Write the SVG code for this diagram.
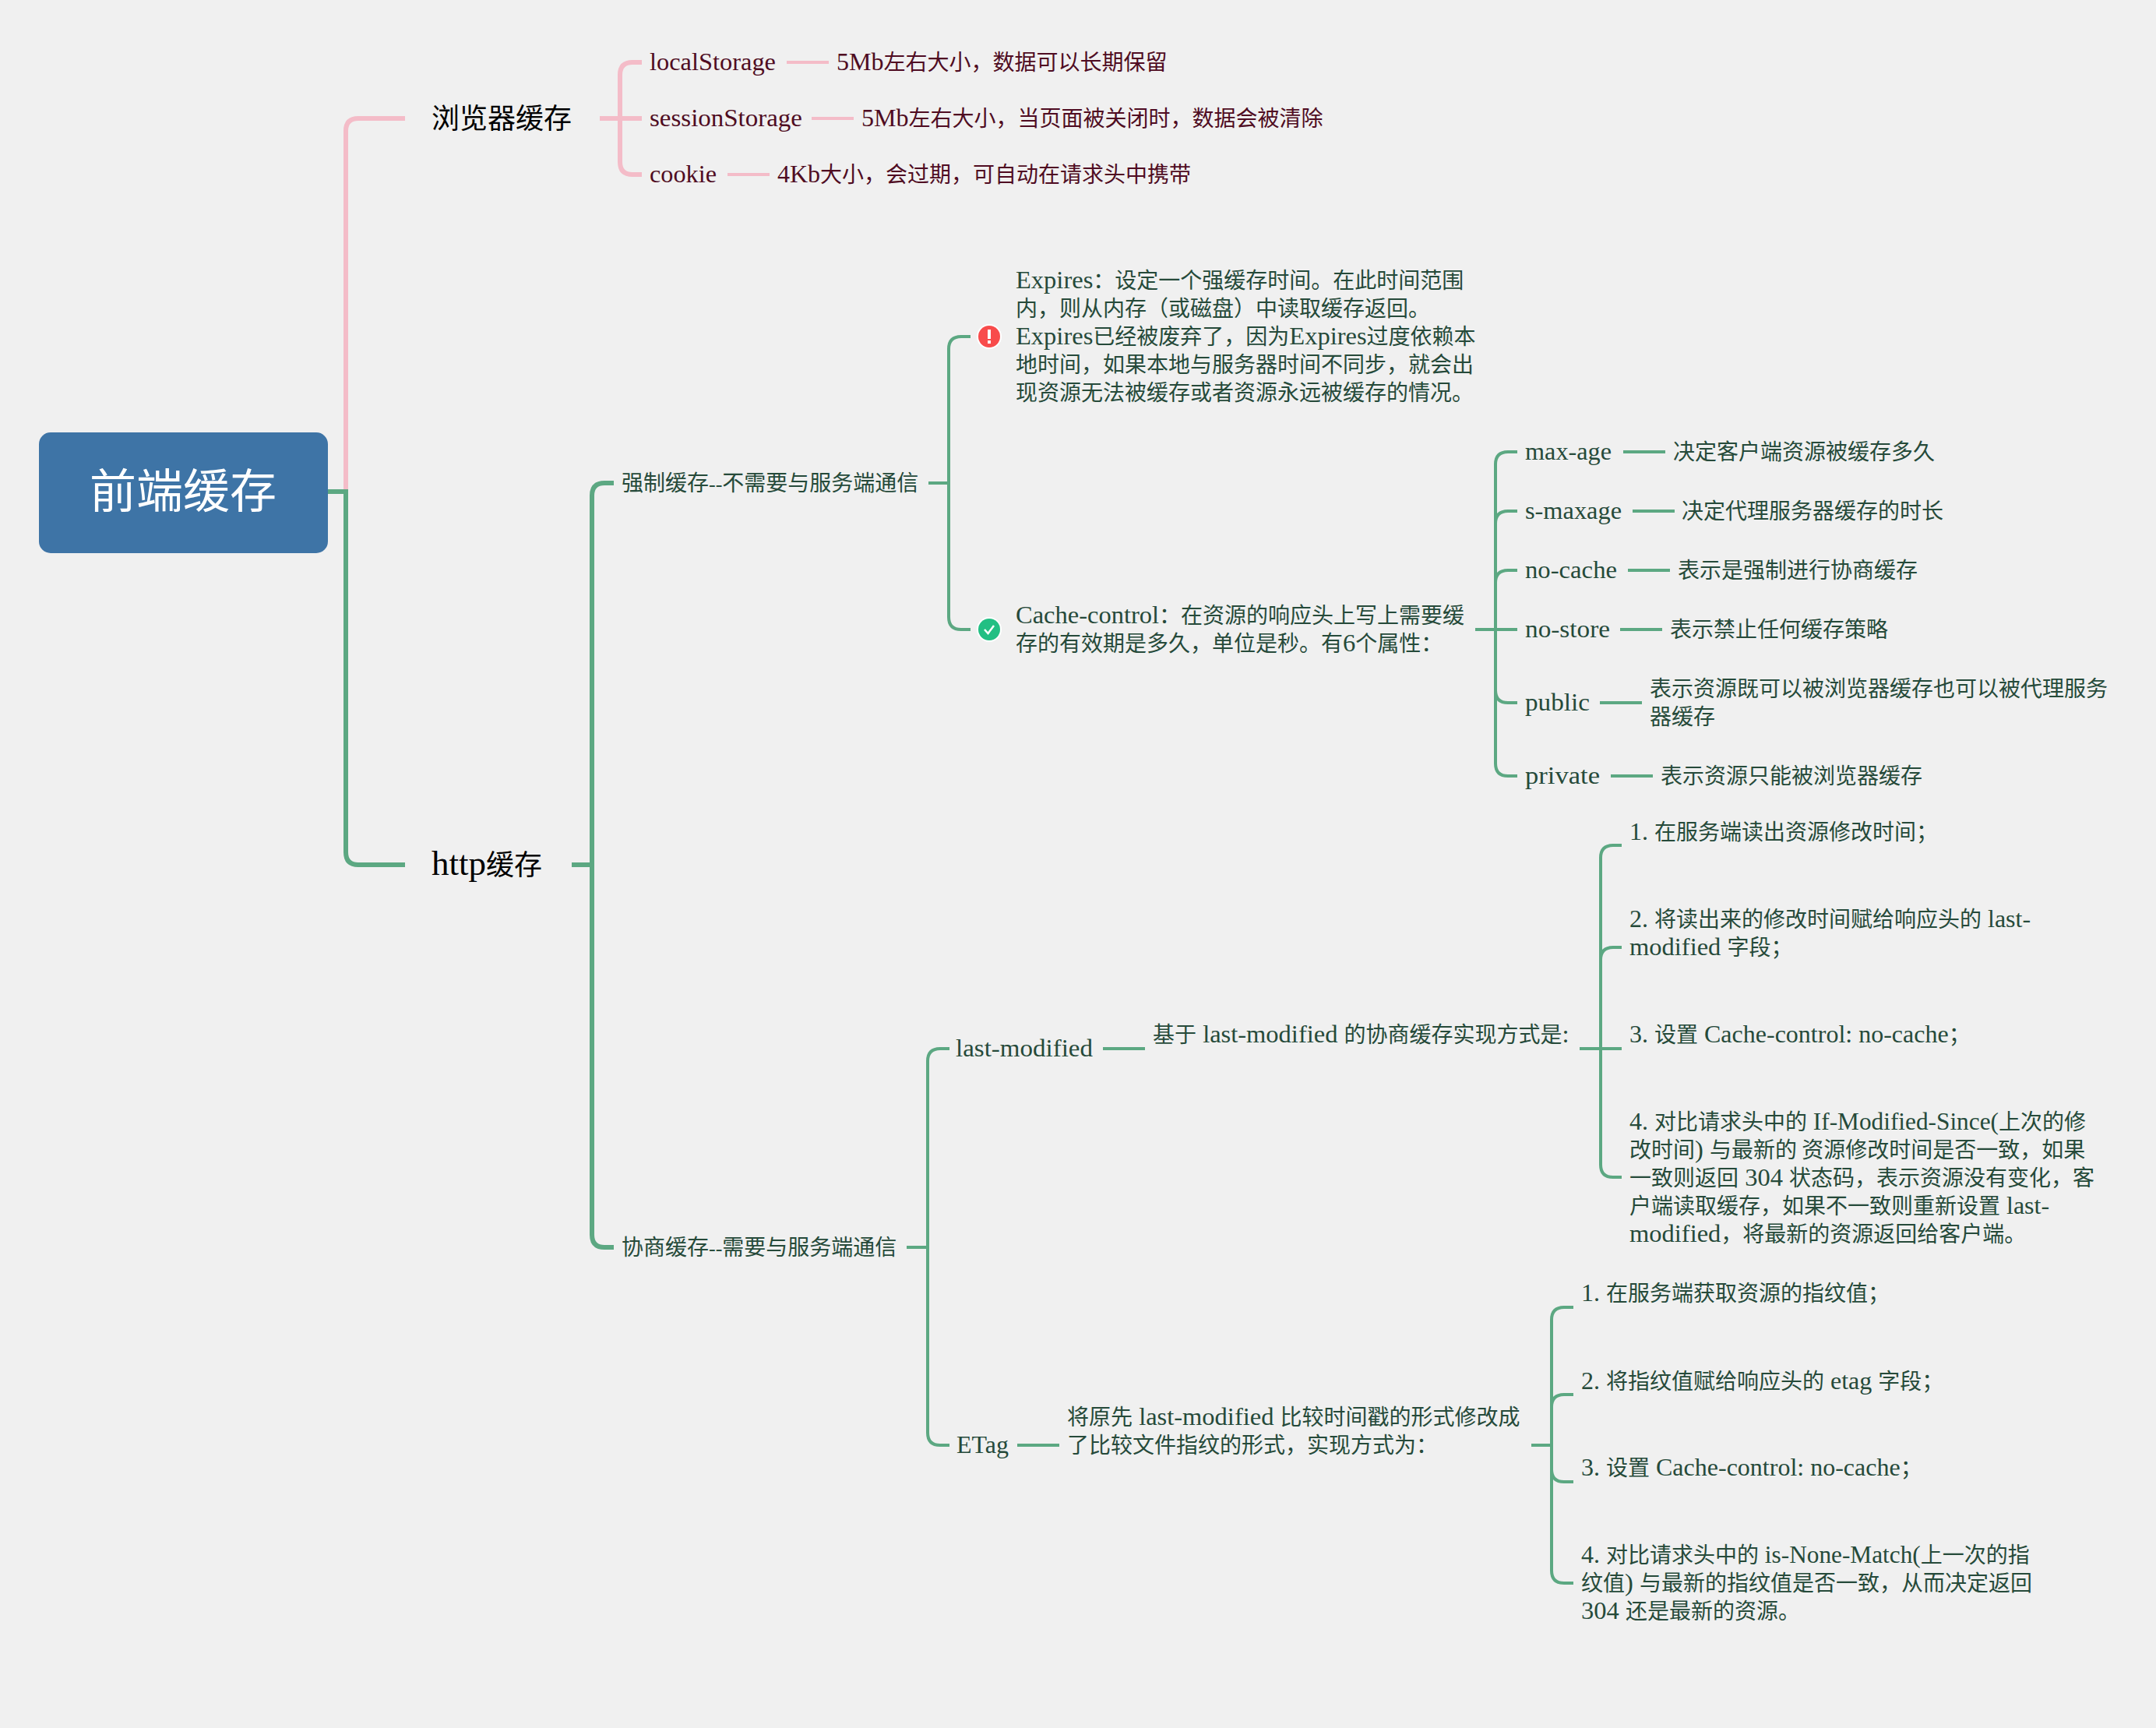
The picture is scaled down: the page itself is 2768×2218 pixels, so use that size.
<svg xmlns="http://www.w3.org/2000/svg" width="2768" height="2218" viewBox="0 0 2768 2218">
<style>
text{font-family:"Noto Sans CJK SC","Noto Sans",sans-serif;font-size:28px;fill:#264a3a}
.l{font-family:"Liberation Serif","Noto Serif",serif;font-size:32.500px}
.m{font-size:31.300px}
.n{font-size:32px}
.d{font-family:"Liberation Serif","Noto Serif",serif;font-size:26px}
.p{fill:#4f0c22}
.big{font-size:36px;fill:#000}
.big .l{font-size:45px}
.root{font-size:60px;fill:#fff}
.g,.k{fill:none;stroke-linecap:butt}
.g{stroke:#5ca882}
.k{stroke:#f4bcc8}
.w6{stroke-width:6}.w4{stroke-width:4}
</style>
<rect width="2768" height="2218" fill="#f0f0f0"/>
<g id="connectors">
<path class="k w6" d="M444 631V168Q444 152 460 152H520"/>
<path class="g w6" d="M421 631H444V1094Q444 1110 460 1110H520"/>
<path class="k w6" d="M770 152H824M796 152V96Q796 80 812 80H824M796 152V208Q796 224 812 224H824"/>
<path class="k w4" d="M1010 80H1064M1042 152H1096M934 224H988"/>
<path class="g w6" d="M734 1110H760M760 1110V636Q760 620 776 620H788M760 1110V1585Q760 1601 776 1601H788"/>
<path class="g w4" d="M1192 620H1218M1218 620V448Q1218 432 1234 432H1246M1218 620V792Q1218 808 1234 808H1246"/>
<path class="g w4" d="M1894 808H1948M1920 808V596Q1920 580 1936 580H1948M1920 808V672Q1920 656 1936 656H1948M1920 808V748Q1920 732 1936 732H1948M1920 808V886Q1920 902 1936 902H1948M1920 808V980Q1920 996 1936 996H1948"/>
<path class="g w4" d="M2084 580H2138M2096 656H2150M2090 732H2144M2080 808H2134M2054 902H2108M2068 996H2122"/>
<path class="g w4" d="M1164 1601H1191M1191 1601V1362Q1191 1346 1207 1346H1219M1191 1601V1839Q1191 1855 1207 1855H1219"/>
<path class="g w4" d="M1416 1346H1470M1306 1855H1360"/>
<path class="g w4" d="M2028 1346H2082M2055 1346V1101Q2055 1085 2071 1085H2082M2055 1346V1232Q2055 1216 2071 1216H2082M2055 1346V1495Q2055 1511 2071 1511H2082"/>
<path class="g w4" d="M1966 1855H1992M1992 1855V1694Q1992 1678 2008 1678H2020M1992 1855V1806Q1992 1790 2008 1790H2020M1992 1855V1886Q1992 1902 2008 1902H2020M1992 1855V2016Q1992 2032 2008 2032H2020"/>
</g>
<g id="root"><rect x="50" y="555" width="371" height="155" rx="15" fill="#3e74a6"/><text class="root" x="115" y="652">前端缓存</text></g>
<g id="browser"><text class="big" x="554" y="165">浏览器缓存</text></g>
<g id="http"><text class="big" x="554" y="1123"><tspan class="l">http</tspan>缓存</text></g>
<g id="localStorage"><text class="p" x="834" y="90" textLength="162" lengthAdjust="spacingAndGlyphs"><tspan class="l">localStorage</tspan></text></g>
<g id="localStorage-note"><text class="p" x="1074" y="90"><tspan class="l n">5Mb</tspan>左右大小，数据可以长期保留</text></g>
<g id="sessionStorage"><text class="p" x="834" y="162" textLength="196" lengthAdjust="spacingAndGlyphs"><tspan class="l">sessionStorage</tspan></text></g>
<g id="sessionStorage-note"><text class="p" x="1106" y="162"><tspan class="l n">5Mb</tspan>左右大小，当页面被关闭时，数据会被清除</text></g>
<g id="cookie"><text class="p" x="834" y="234" textLength="86" lengthAdjust="spacingAndGlyphs"><tspan class="l">cookie</tspan></text></g>
<g id="cookie-note"><text class="p" x="998" y="234"><tspan class="l n">4Kb</tspan>大小，会过期，可自动在请求头中携带</text></g>
<g id="strong"><text x="798" y="630">强制缓存<tspan class="d">--</tspan>不需要与服务端通信</text></g>
<g id="negotiate"><text x="798" y="1611">协商缓存<tspan class="d">--</tspan>需要与服务端通信</text></g>
<g id="expires">
<circle cx="1270" cy="432" r="16" fill="#fff"/><circle cx="1270" cy="432" r="14" fill="#f84b4b"/>
<rect x="1268" y="423" width="4" height="12" fill="#fff"/><rect x="1268" y="437" width="4" height="4" fill="#fff"/>
<text x="1304" y="370"><tspan class="l">Expires</tspan>：设定一个强缓存时间。在此时间范围</text>
<text x="1304" y="406">内，则从内存（或磁盘）中读取缓存返回。</text>
<text x="1304" y="442"><tspan class="l">Expires</tspan>已经被废弃了，因为<tspan class="l">Expires</tspan>过度依赖本</text>
<text x="1304" y="478">地时间，如果本地与服务器时间不同步，就会出</text>
<text x="1304" y="514">现资源无法被缓存或者资源永远被缓存的情况。</text>
</g>
<g id="cache-control">
<circle cx="1270" cy="808" r="16" fill="#fff"/><circle cx="1270" cy="808" r="14" fill="#22bf83"/>
<path d="M1264 808L1268.500 813L1276 803" fill="none" stroke="#fff" stroke-width="2.500"/>
<text x="1304" y="800"><tspan class="l">Cache-control</tspan>：在资源的响应头上写上需要缓</text>
<text x="1304" y="836">存的有效期是多久，单位是秒。有<tspan class="l">6</tspan>个属性：</text>
</g>
<g id="max-age"><text x="1958" y="590" textLength="111" lengthAdjust="spacingAndGlyphs"><tspan class="l">max-age</tspan></text></g>
<g id="max-age-note"><text x="2148" y="590">决定客户端资源被缓存多久</text></g>
<g id="s-maxage"><text x="1958" y="666" textLength="124" lengthAdjust="spacingAndGlyphs"><tspan class="l">s-maxage</tspan></text></g>
<g id="s-maxage-note"><text x="2159" y="666">决定代理服务器缓存的时长</text></g>
<g id="no-cache"><text x="1958" y="742" textLength="118" lengthAdjust="spacingAndGlyphs"><tspan class="l">no-cache</tspan></text></g>
<g id="no-cache-note"><text x="2154" y="742">表示是强制进行协商缓存</text></g>
<g id="no-store"><text x="1958" y="818" textLength="109" lengthAdjust="spacingAndGlyphs"><tspan class="l">no-store</tspan></text></g>
<g id="no-store-note"><text x="2144" y="818">表示禁止任何缓存策略</text></g>
<g id="public"><text x="1958" y="912" textLength="83" lengthAdjust="spacingAndGlyphs"><tspan class="l">public</tspan></text></g>
<g id="public-note"><text x="2118" y="894">表示资源既可以被浏览器缓存也可以被代理服务</text><text x="2118" y="930">器缓存</text></g>
<g id="private"><text x="1958" y="1006" textLength="96" lengthAdjust="spacingAndGlyphs"><tspan class="l">private</tspan></text></g>
<g id="private-note"><text x="2132" y="1006">表示资源只能被浏览器缓存</text></g>
<g id="last-modified"><text x="1227" y="1356" textLength="176" lengthAdjust="spacingAndGlyphs"><tspan class="l">last-modified</tspan></text></g>
<g id="last-modified-note"><text x="1480" y="1338">基于<tspan class="l"> last-modified </tspan>的协商缓存实现方式是<tspan class="l">:</tspan></text></g>
<g id="lm-1"><text x="2092" y="1078"><tspan class="l n">1. </tspan>在服务端读出资源修改时间；</text></g>
<g id="lm-2"><text x="2092" y="1190"><tspan class="l n">2. </tspan>将读出来的修改时间赋给响应头的<tspan class="l n"> last-</tspan></text><text x="2092" y="1226"><tspan class="l">modified </tspan>字段；</text></g>
<g id="lm-3"><text x="2092" y="1338"><tspan class="l n">3. </tspan>设置<tspan class="l n"> Cache-control: no-cache</tspan>；</text></g>
<g id="lm-4">
<text x="2092" y="1450"><tspan class="l n">4. </tspan>对比请求头中的<tspan class="l m"> If-Modified-Since(</tspan>上次的修</text>
<text x="2092" y="1486">改时间<tspan class="l">) </tspan>与最新的 资源修改时间是否一致，如果</text>
<text x="2092" y="1522">一致则返回<tspan class="l"> 304 </tspan>状态码，表示资源没有变化，客</text>
<text x="2092" y="1558">户端读取缓存，如果不一致则重新设置<tspan class="l n"> last-</tspan></text>
<text x="2092" y="1594"><tspan class="l">modified</tspan>，将最新的资源返回给客户端。</text>
</g>
<g id="etag"><text x="1228" y="1865" textLength="67" lengthAdjust="spacingAndGlyphs"><tspan class="l">ETag</tspan></text></g>
<g id="etag-note"><text x="1370" y="1829">将原先<tspan class="l"> last-modified </tspan>比较时间戳的形式修改成</text><text x="1370" y="1865">了比较文件指纹的形式，实现方式为：</text></g>
<g id="et-1"><text x="2030" y="1670"><tspan class="l n">1. </tspan>在服务端获取资源的指纹值；</text></g>
<g id="et-2"><text x="2030" y="1783"><tspan class="l n">2. </tspan>将指纹值赋给响应头的<tspan class="l n"> etag </tspan>字段；</text></g>
<g id="et-3"><text x="2030" y="1894"><tspan class="l n">3. </tspan>设置<tspan class="l n"> Cache-control: no-cache</tspan>；</text></g>
<g id="et-4">
<text x="2030" y="2006"><tspan class="l n">4. </tspan>对比请求头中的<tspan class="l m"> is-None-Match(</tspan>上一次的指</text>
<text x="2030" y="2042">纹值<tspan class="l">) </tspan>与最新的指纹值是否一致，从而决定返回</text>
<text x="2030" y="2078"><tspan class="l">304 </tspan>还是最新的资源。</text>
</g>
</svg>
